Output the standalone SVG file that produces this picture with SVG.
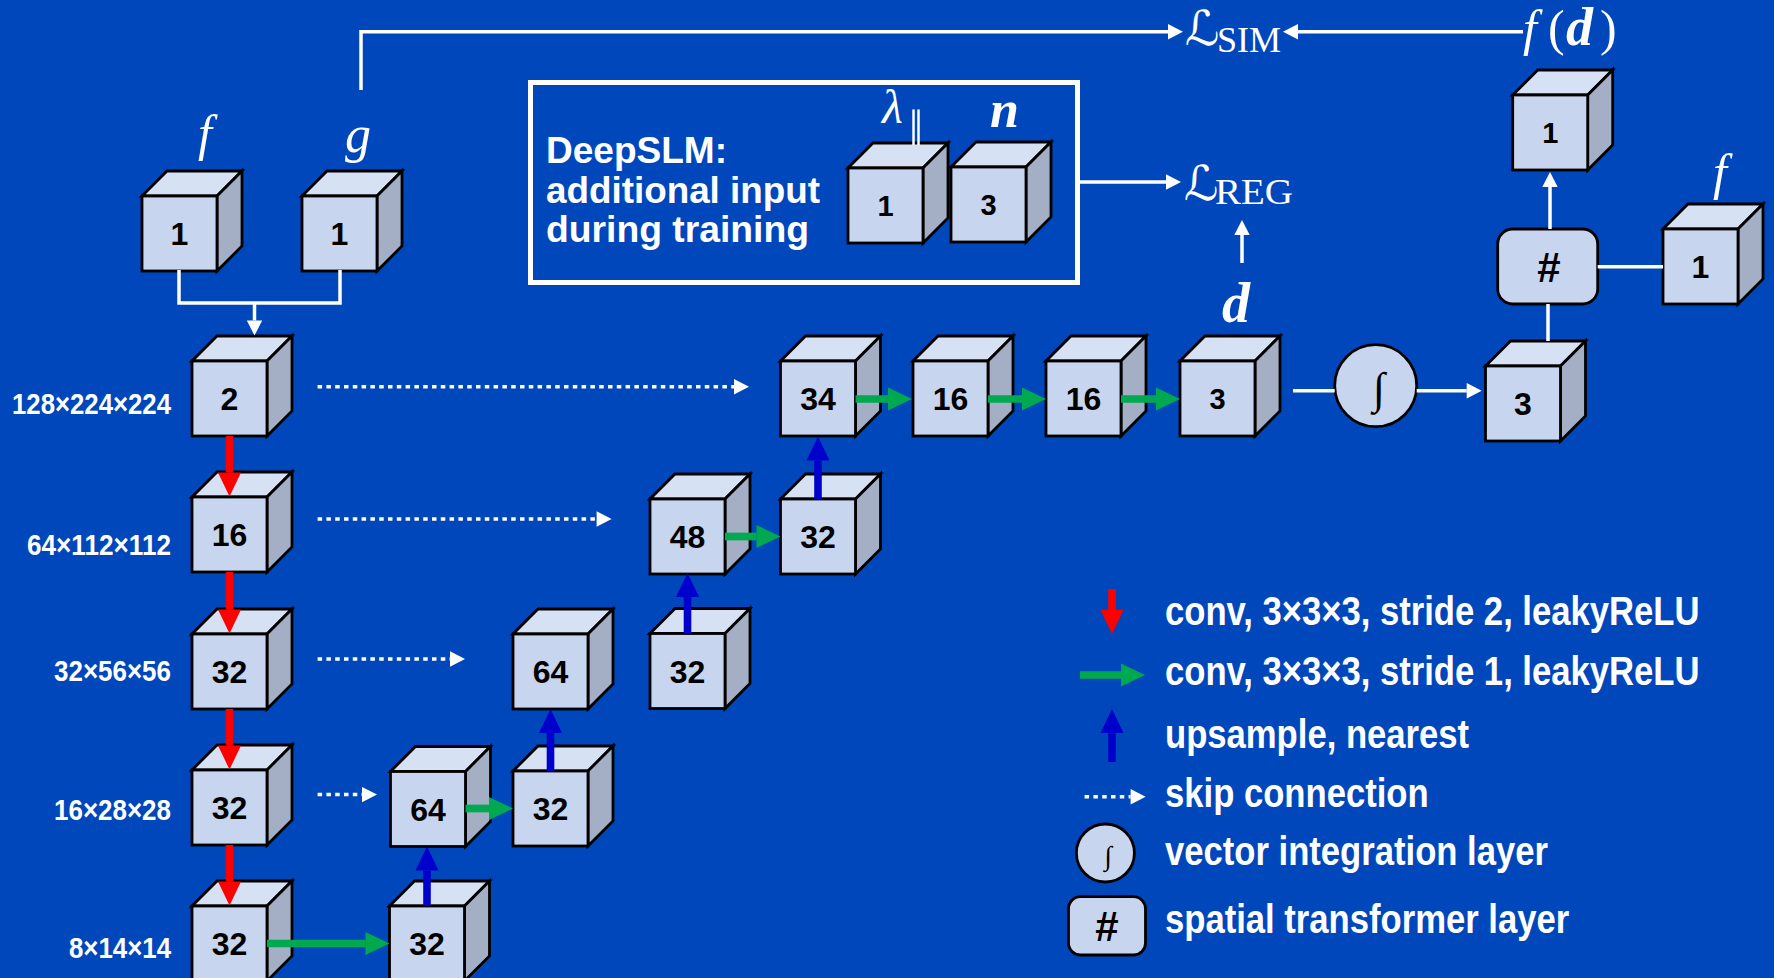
<svg xmlns="http://www.w3.org/2000/svg" xmlns:xlink="http://www.w3.org/1999/xlink" width="1774" height="978" viewBox="0 0 1774 978">
  <style>
    .front { fill: #C8D5EE; stroke: #000; stroke-width: 2.8; stroke-linejoin: miter; }
    .top { fill: #D7E1F4; stroke: #000; stroke-width: 2.8; stroke-linejoin: miter; }
    .side { fill: #A4AFC5; stroke: #000; stroke-width: 2.8; stroke-linejoin: miter; }
    .num { font-family: "Liberation Sans", Arial, sans-serif; font-weight: bold; font-size: 32px; fill: #000; text-anchor: middle; }
    .num-s { font-size: 29px; }
    .hash { font-size: 42px; }
    .dim { font-family: "Liberation Sans", Arial, sans-serif; font-weight: bold; font-size: 30px; fill: #fff; text-anchor: end; }
    .lbl { font-family: "Liberation Sans", Arial, sans-serif; font-weight: bold; font-size: 36px; fill: #fff; }
    .leg { font-family: "Liberation Sans", Arial, sans-serif; font-weight: bold; font-size: 41px; fill: #fff; }
    .math { font-family: "Liberation Serif", "Times New Roman", serif; fill: #fff; }
    .ink { fill: #000; }
    .it { font-style: italic; }
    .bi { font-style: italic; font-weight: bold; }
    .script { font-family: "DejaVu Serif", "DejaVu Sans", serif; fill: #fff; }
    .wline { fill: none; stroke: #fff; stroke-width: 3.5; }
    .skip { fill: none; stroke: #fff; stroke-width: 3.5; stroke-dasharray: 4.5 4.3; }
    .red { stroke: #FF0000; stroke-width: 7.5; fill: none; }
    .green { stroke: #00A84F; stroke-width: 7.7; fill: none; }
    .blue { stroke: #0000CC; stroke-width: 7.6; fill: none; }
  </style>
  <defs>
    <g id="cube">
      <polygon class="top" points="0,0 25,-25 100,-25 75,0"/>
      <polygon class="side" points="75,0 100,-25 100,50 75,75"/>
      <rect class="front" x="0" y="0" width="75" height="75"/>
    </g>
    <marker id="hw" markerUnits="userSpaceOnUse" viewBox="0 -8 15 16" markerWidth="15" markerHeight="16" refX="0" refY="0" orient="auto" overflow="visible">
      <path d="M0,-7.7 L15,0 L0,7.7 z" fill="#fff"/>
    </marker>
    <marker id="hr" markerUnits="userSpaceOnUse" viewBox="0 -12 24 24" markerWidth="24" markerHeight="24" refX="0" refY="0" orient="auto" overflow="visible">
      <path d="M0,-11.5 L24,0 L0,11.5 z" fill="#FF0000"/>
    </marker>
    <marker id="hg" markerUnits="userSpaceOnUse" viewBox="0 -12 24 24" markerWidth="24" markerHeight="24" refX="0" refY="0" orient="auto" overflow="visible">
      <path d="M0,-11.5 L24,0 L0,11.5 z" fill="#00A84F"/>
    </marker>
    <marker id="hb" markerUnits="userSpaceOnUse" viewBox="0 -12 24 24" markerWidth="24" markerHeight="24" refX="0" refY="0" orient="auto" overflow="visible">
      <path d="M0,-11.5 L24,0 L0,11.5 z" fill="#0000CC"/>
    </marker>
  </defs>

  <!-- background -->
  <rect x="0" y="0" width="1774" height="978" fill="#0047BB"/>

  <!-- inputs -->
  <g id="input-f">
    <use href="#cube" x="142" y="196"/>
    <text class="num" x="179.5" y="245">1</text>
    <text class="math it" x="205" y="150" font-size="50" text-anchor="middle">f</text>
  </g>
  <g id="input-g">
    <use href="#cube" x="302" y="196"/>
    <text class="num" x="339.5" y="245">1</text>
    <text class="math it" x="358" y="152" font-size="52" text-anchor="middle">g</text>
  </g>

  <!-- encoder -->
  <g id="enc-1">
    <use href="#cube" x="192" y="361"/>
    <text class="num" x="229.5" y="410">2</text>
    <text class="dim" x="171" y="414" textLength="159" lengthAdjust="spacingAndGlyphs">128×224×224</text>
  </g>
  <g id="enc-2">
    <use href="#cube" x="192" y="497"/>
    <text class="num" x="229.5" y="546">16</text>
    <text class="dim" x="171" y="555" textLength="144" lengthAdjust="spacingAndGlyphs">64×112×112</text>
  </g>
  <g id="enc-3">
    <use href="#cube" x="192" y="634"/>
    <text class="num" x="229.5" y="683">32</text>
    <text class="dim" x="171" y="681" textLength="117" lengthAdjust="spacingAndGlyphs">32×56×56</text>
  </g>
  <g id="enc-4">
    <use href="#cube" x="192" y="770"/>
    <text class="num" x="229.5" y="819">32</text>
    <text class="dim" x="171" y="820" textLength="117" lengthAdjust="spacingAndGlyphs">16×28×28</text>
  </g>
  <g id="enc-5">
    <use href="#cube" x="192" y="906"/>
    <text class="num" x="229.5" y="955">32</text>
    <text class="dim" x="171" y="958" textLength="102" lengthAdjust="spacingAndGlyphs">8×14×14</text>
  </g>

  <!-- decoder -->
  <g id="dec-5a">
    <use href="#cube" x="389.5" y="906"/>
    <text class="num" x="427" y="955">32</text>
  </g>
  <g id="dec-4a">
    <use href="#cube" x="390.5" y="771.5"/>
    <text class="num" x="428" y="820.5">64</text>
  </g>
  <g id="dec-4b">
    <use href="#cube" x="513" y="771"/>
    <text class="num" x="550.5" y="820">32</text>
  </g>
  <g id="dec-3a">
    <use href="#cube" x="513" y="634"/>
    <text class="num" x="550.5" y="683">64</text>
  </g>
  <g id="dec-3b">
    <use href="#cube" x="650" y="633.5"/>
    <text class="num" x="687.5" y="682.5">32</text>
  </g>
  <g id="dec-2a">
    <use href="#cube" x="650" y="499"/>
    <text class="num" x="687.5" y="548">48</text>
  </g>
  <g id="dec-2b">
    <use href="#cube" x="780.5" y="499"/>
    <text class="num" x="818" y="548">32</text>
  </g>
  <g id="dec-1a">
    <use href="#cube" x="780.5" y="361"/>
    <text class="num" x="818" y="410">34</text>
  </g>
  <g id="dec-1b">
    <use href="#cube" x="913" y="361"/>
    <text class="num" x="950.5" y="410">16</text>
  </g>
  <g id="dec-1c">
    <use href="#cube" x="1046" y="361"/>
    <text class="num" x="1083.5" y="410">16</text>
  </g>
  <g id="field-d">
    <use href="#cube" x="1180" y="361"/>
    <text class="num num-s" x="1217.5" y="409">3</text>
    <text class="math bi" x="1222" y="322" font-size="56">d</text>
  </g>

  <!-- integration and warping -->
  <g id="integrate">
    <circle class="front" cx="1375.7" cy="385.7" r="41"/>
    <text class="math it ink" x="1379" y="403" font-size="44" text-anchor="middle">∫</text>
  </g>
  <g id="deformation">
    <use href="#cube" x="1485.5" y="366"/>
    <text class="num" x="1523" y="415">3</text>
  </g>
  <g id="transformer">
    <rect class="front" x="1497.7" y="229" width="100" height="75" rx="15" ry="15"/>
    <text class="num hash" x="1549" y="282">#</text>
  </g>
  <g id="moving-f">
    <use href="#cube" x="1663" y="229"/>
    <text class="num" x="1700.5" y="278">1</text>
    <text class="math it" x="1720" y="189" font-size="50" text-anchor="middle">f</text>
  </g>
  <g id="warped">
    <use href="#cube" x="1512.7" y="95"/>
    <text class="num num-s" x="1550.2" y="143">1</text>
    <text class="math" y="45" font-size="50"><tspan class="it" x="1523">f</tspan><tspan x="1548">(</tspan><tspan class="bi" x="1566" font-size="54">d</tspan><tspan x="1600">)</tspan></text>
  </g>

  <!-- losses -->
  <g id="loss-sim">
    <text class="script" x="1185" y="45" font-size="48">ℒ</text>
    <text class="math" x="1217" y="52" font-size="36">SIM</text>
  </g>
  <g id="loss-reg">
    <text class="script" x="1184" y="200" font-size="48">ℒ</text>
    <text class="math" x="1215" y="204" font-size="36" textLength="78" lengthAdjust="spacingAndGlyphs">REG</text>
  </g>

  <!-- training-only input -->
  <g id="deepslm-box">
    <rect x="530.5" y="82.5" width="547" height="200" fill="none" stroke="#fff" stroke-width="5"/>
    <text class="lbl" x="546" y="163" textLength="181" lengthAdjust="spacingAndGlyphs">DeepSLM:</text>
    <text class="lbl" x="546" y="203" textLength="274" lengthAdjust="spacingAndGlyphs">additional input</text>
    <text class="lbl" x="546" y="242" textLength="263" lengthAdjust="spacingAndGlyphs">during training</text>
  </g>
  <g id="lambda">
    <use href="#cube" x="848" y="168"/>
    <text class="num num-s" x="885.5" y="216">1</text>
    <text class="math it" x="882" y="123" font-size="48">λ</text>
    <text class="math" x="909" y="145" font-size="50">‖</text>
  </g>
  <g id="normals">
    <use href="#cube" x="951" y="167"/>
    <text class="num num-s" x="988.5" y="215">3</text>
    <text class="math bi" x="990" y="127" font-size="52">n</text>
  </g>

  <!-- connectors -->
  <g id="connectors">
    <path class="wline" d="M179,270 V303 H340 V270"/>
    <path class="wline" d="M254.5,303 V320.5" marker-end="url(#hw)"/>
    <path class="wline" d="M361,90 V31.7 H1168" marker-end="url(#hw)"/>
    <path class="wline" d="M1523,31.7 H1298" marker-end="url(#hw)"/>
    <path class="wline" d="M1080,182 H1166" marker-end="url(#hw)"/>
    <path class="wline" d="M1242,263 V235" marker-end="url(#hw)"/>
    <path class="wline" d="M1293,390.7 H1334.7"/>
    <path class="wline" d="M1416.7,390.7 H1466.7" marker-end="url(#hw)"/>
    <path class="wline" d="M1550,229 V187" marker-end="url(#hw)"/>
    <path class="wline" d="M1548,304 V341"/>
    <path class="wline" d="M1597.7,266.7 H1663"/>

    <path class="skip" d="M317.6,386.7 H734"  marker-end="url(#hw)"/>
    <path class="skip" d="M317.6,519 H596.6" marker-end="url(#hw)"/>
    <path class="skip" d="M317.6,659 H450" marker-end="url(#hw)"/>
    <path class="skip" d="M317.6,794.6 H362" marker-end="url(#hw)"/>

    <path class="red" d="M229.5,436 V472.5" marker-end="url(#hr)"/>
    <path class="red" d="M229.5,572 V609.5" marker-end="url(#hr)"/>
    <path class="red" d="M229.5,709 V745.5" marker-end="url(#hr)"/>
    <path class="red" d="M229.5,845 V881.5" marker-end="url(#hr)"/>

    <path class="green" d="M267,943.5 H365.5" marker-end="url(#hg)"/>
    <path class="green" d="M465.5,808.5 H489" marker-end="url(#hg)"/>
    <path class="green" d="M725,536.5 H756.5" marker-end="url(#hg)"/>
    <path class="green" d="M855.5,399 H888" marker-end="url(#hg)"/>
    <path class="green" d="M988,399 H1022" marker-end="url(#hg)"/>
    <path class="green" d="M1121,399 H1156" marker-end="url(#hg)"/>

    <path class="blue" d="M427,906 V870.5" marker-end="url(#hb)"/>
    <path class="blue" d="M550.5,771 V733" marker-end="url(#hb)"/>
    <path class="blue" d="M687.5,633.5 V597" marker-end="url(#hb)"/>
    <path class="blue" d="M818,499 V460.5" marker-end="url(#hb)"/>
  </g>

  <!-- legend -->
  <g id="legend">
    <path class="red" d="M1112,589 V610" marker-end="url(#hr)"/>
    <text class="leg" transform="translate(1165,625) scale(0.845,1)">conv, 3×3×3, stride 2, leakyReLU</text>
    <path class="green" d="M1080,675 H1121" marker-end="url(#hg)"/>
    <text class="leg" transform="translate(1165,685) scale(0.845,1)">conv, 3×3×3, stride 1, leakyReLU</text>
    <path class="blue" d="M1112,762 V733" marker-end="url(#hb)"/>
    <text class="leg" transform="translate(1165,748) scale(0.845,1)">upsample, nearest</text>
    <path class="skip" d="M1084.6,796.7 H1130.6" marker-end="url(#hw)"/>
    <text class="leg" transform="translate(1165,807) scale(0.845,1)">skip connection</text>
    <circle class="front" cx="1105.4" cy="853" r="29"/>
    <text class="math it ink" x="1108" y="865" font-size="27" text-anchor="middle">∫</text>
    <text class="leg" transform="translate(1165,865) scale(0.845,1)">vector integration layer</text>
    <rect class="front" x="1068.5" y="896.7" width="77" height="58.3" rx="12" ry="12"/>
    <text class="num hash" x="1107" y="941">#</text>
    <text class="leg" transform="translate(1165,933) scale(0.845,1)">spatial transformer layer</text>
  </g>
</svg>
